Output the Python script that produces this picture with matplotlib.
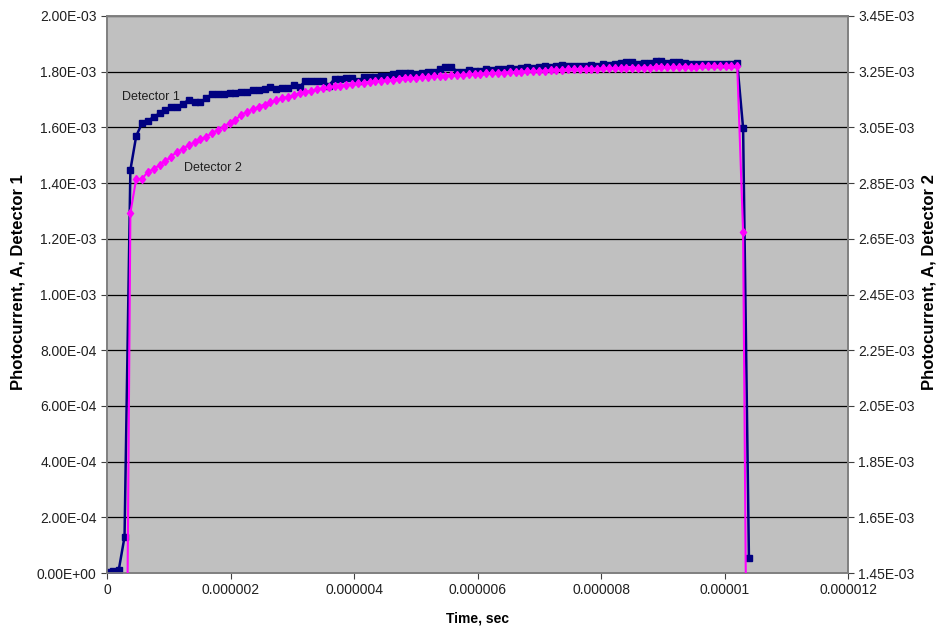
import numpy as np
import matplotlib
matplotlib.use("Agg")
import matplotlib.pyplot as plt
from matplotlib.ticker import FixedLocator, FuncFormatter

plt.rcParams['font.family'] = ['Liberation Sans', 'DejaVu Sans']

# sampling interval of the scope trace (s)
dt = 0.0945e-6

# Detector 1 photocurrent, A (left axis)
det1 = [0.000005, 0.000008, 0.000010, 0.000130, 0.001447, 0.001569, 0.001615, 0.001623,
        0.001638, 0.001650, 0.001663, 0.001674, 0.001674, 0.001683, 0.001700, 0.001690,
        0.001690, 0.001705, 0.001720, 0.001720, 0.001720, 0.001722, 0.001725, 0.001728,
        0.001728, 0.001734, 0.001734, 0.001738, 0.001746, 0.001738, 0.001740, 0.001742,
        0.001752, 0.001745, 0.001767, 0.001767, 0.001767, 0.001767, 0.001750, 0.001774,
        0.001774, 0.001776, 0.001778, 0.001765, 0.001780, 0.001782, 0.001782, 0.001785,
        0.001785, 0.001790, 0.001794, 0.001795, 0.001794, 0.001792, 0.001795, 0.001798,
        0.001800, 0.001810, 0.001818, 0.001818, 0.001800, 0.001800, 0.001806, 0.001802,
        0.001804, 0.001808, 0.001806, 0.001810, 0.001810, 0.001812, 0.001810, 0.001814,
        0.001818, 0.001815, 0.001816, 0.001820, 0.001818, 0.001820, 0.001824, 0.001822,
        0.001822, 0.001820, 0.001822, 0.001824, 0.001822, 0.001826, 0.001824, 0.001828,
        0.001830, 0.001835, 0.001835, 0.001828, 0.001830, 0.001832, 0.001840, 0.001840,
        0.001832, 0.001836, 0.001836, 0.001830, 0.001828, 0.001828, 0.001828, 0.001826,
        0.001826, 0.001826, 0.001826, 0.001826, 0.001830, 0.001598, 0.000054]

# Detector 2 photocurrent, A (right axis)
det2 = [0.000000, 0.000000, 0.000000, 0.000000, 0.002743, 0.002865, 0.002865, 0.002891,
        0.002900, 0.002915, 0.002929, 0.002945, 0.002963, 0.002972, 0.002987, 0.002996,
        0.003008, 0.003017, 0.003029, 0.003041, 0.003053, 0.003065, 0.003077, 0.003095,
        0.003106, 0.003115, 0.003125, 0.003132, 0.003140, 0.003147, 0.003154, 0.003160,
        0.003166, 0.003172, 0.003177, 0.003182, 0.003187, 0.003190, 0.003194, 0.003197,
        0.003200, 0.003202, 0.003205, 0.003208, 0.003210, 0.003213, 0.003215, 0.003217,
        0.003219, 0.003221, 0.003224, 0.003226, 0.003227, 0.003228, 0.003230, 0.003231,
        0.003233, 0.003234, 0.003236, 0.003237, 0.003238, 0.003239, 0.003240, 0.003242,
        0.003243, 0.003244, 0.003245, 0.003246, 0.003247, 0.003248, 0.003249, 0.003250,
        0.003251, 0.003252, 0.003253, 0.003254, 0.003255, 0.003256, 0.003257, 0.003258,
        0.003259, 0.003260, 0.003260, 0.003261, 0.003261, 0.003262, 0.003262, 0.003263,
        0.003263, 0.003264, 0.003264, 0.003264, 0.003265, 0.003265, 0.003266, 0.003266,
        0.003266, 0.003267, 0.003267, 0.003268, 0.003268, 0.003268, 0.003269, 0.003269,
        0.003270, 0.003270, 0.003270, 0.003270, 0.003270, 0.002674, 0.000000]

time = np.arange(len(det1)) * dt

x_ticks = [0, 2e-6, 4e-6, 6e-6, 8e-6, 10e-6, 12e-6]
x_labels = ["0", "0.000002", "0.000004", "0.000006", "0.000008", "0.00001", "0.000012"]
left_ticks = [i * 2e-4 for i in range(11)]
right_ticks = [1.45e-3 + i * 2e-4 for i in range(11)]

fig = plt.figure(figsize=(9.43, 6.27), dpi=100)
ax = fig.add_axes([0.1135, 0.0861, 0.7858, 0.8884])
ax.set_facecolor('#c0c0c0')

ax.plot(time, det1, color='#000080', lw=1.8, marker='s', ms=4, mec='#000080', zorder=3)
ax.set_xlim(0, 12e-6)
ax.set_ylim(0, 2e-3)
ax.yaxis.set_major_locator(FixedLocator(left_ticks))
ax.yaxis.set_major_formatter(FuncFormatter(lambda v, p: "%.2E" % v))
ax.set_xticks(x_ticks)
ax.set_xticklabels(x_labels)
ax.grid(axis='y', color='black', lw=0.9)
ax.set_axisbelow(True)

ax2 = ax.twinx()
ax2.plot(time, det2, color='#ff00ff', lw=1.5, marker='d', ms=4.5, mec='#ff00ff', zorder=3)
ax2.set_ylim(1.45e-3, 3.45e-3)
ax2.yaxis.set_major_locator(FixedLocator(right_ticks))
ax2.yaxis.set_major_formatter(FuncFormatter(lambda v, p: "%.2E" % v))

for a in (ax, ax2):
    for s in a.spines.values():
        s.set_color('#808080')
        s.set_linewidth(1.2)
    a.tick_params(labelsize=10, length=4, color='#404040', labelcolor='#202020')

ax.set_xlabel("Time, sec", fontsize=10, fontweight='bold', labelpad=10)
ax.set_ylabel("Photocurrent, A, Detector 1", fontsize=12, fontweight='bold')
ax2.set_ylabel("Photocurrent, A, Detector 2", fontsize=12, fontweight='bold')
ax.yaxis.set_label_coords(-0.1107, 0.522)
ax2.yaxis.set_label_coords(1.0985, 0.522)

ax.text(0.24e-6, 1.70e-3, "Detector 1", fontsize=9, color='#202020')
ax2.text(1.25e-6, 2.895e-3, "Detector 2", fontsize=9, color='#202020')

plt.savefig('out.png', dpi=100)
